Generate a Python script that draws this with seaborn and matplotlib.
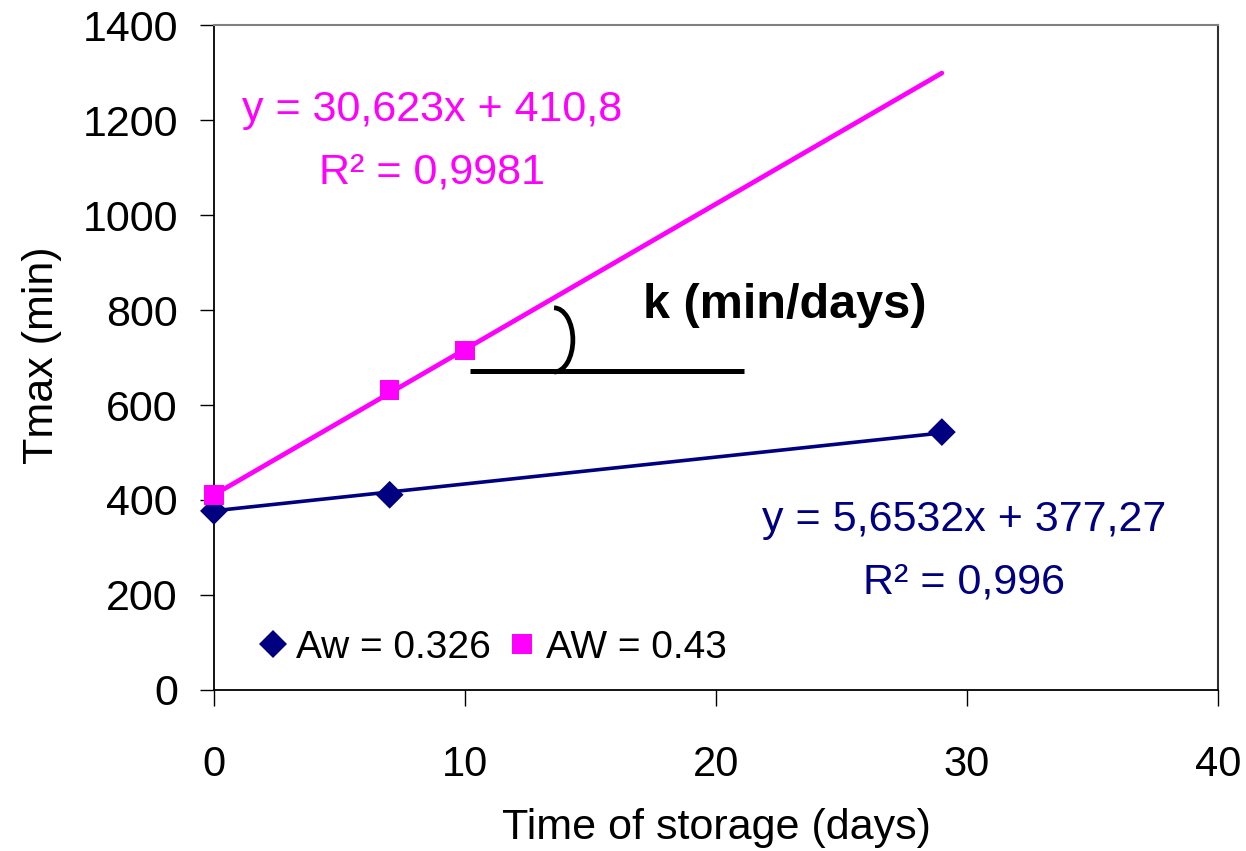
import numpy as np
import pandas as pd
import matplotlib
matplotlib.use("Agg")
import matplotlib.pyplot as plt
from matplotlib.patches import Arc
import seaborn as sns

days_low = [0, 7, 29]
tmax_low = [377, 411, 543]
days_high = [0, 7, 10]
tmax_high = [411, 631, 715]

series_names = ["Aw = 0.326", "AW = 0.43"]
series_colors = ["#000080", "#FF00FF"]

# Excel trend lines as printed on the chart
slope_low, icpt_low = 5.6532, 377.27
slope_high, icpt_high = 30.623, 410.8
trend_days = [0, 29]

eq_low = ["y = 5,6532x + 377,27", "R² = 0,996"]
eq_high = ["y = 30,623x + 410,8", "R² = 0,9981"]

x_ticks = [0, 10, 20, 30, 40]
y_ticks = [0, 200, 400, 600, 800, 1000, 1200, 1400]

sns.set_theme(style="white")
plt.rcParams['font.family'] = ['Liberation Sans', 'DejaVu Sans']
plt.rcParams['text.color'] = 'black'
plt.rcParams['axes.labelcolor'] = 'black'
plt.rcParams['xtick.color'] = 'black'
plt.rcParams['ytick.color'] = 'black'

df = pd.DataFrame({
    "days": days_low + days_high,
    "tmax": tmax_low + tmax_high,
    "series": [series_names[0]] * len(days_low) + [series_names[1]] * len(days_high),
})

trend = pd.DataFrame({
    "days": trend_days + trend_days,
    "tmax": [slope_low * d + icpt_low for d in trend_days] + [slope_high * d + icpt_high for d in trend_days],
    "series": [series_names[0]] * 2 + [series_names[1]] * 2,
})

fig = plt.figure(figsize=(12.46, 8.51), dpi=100)
ax = fig.add_axes([0.1717, 0.1892, 0.8058, 0.7814])

palette = dict(zip(series_names, series_colors))
sns.lineplot(data=trend, x="days", y="tmax", hue="series", palette=palette,
             linewidth=3, legend=False, ax=ax)
# navy trend line thinner than the magenta one
ax.lines[0].set_linewidth(2.6)
ax.lines[1].set_linewidth(3.4)

sns.scatterplot(data=df, x="days", y="tmax", hue="series", style="series",
                palette=palette, markers={series_names[0]: "D", series_names[1]: "s"},
                s=200, edgecolor="none", ax=ax, zorder=5, clip_on=False)
for coll, sz in zip(ax.collections, [135, 260]):
    coll.set_sizes([sz])

ax.set_xlim(0, 40)
ax.set_ylim(0, 1400)
ax.set_xticks(x_ticks)
ax.set_yticks(y_ticks)
ax.set_xticklabels([str(t) for t in x_ticks], fontsize=30)
ax.set_yticklabels([str(t) for t in y_ticks], fontsize=31)
ax.tick_params(axis="x", direction="out", length=11.5, width=1, color="black", pad=28, bottom=True)
ax.tick_params(axis="y", direction="out", length=10, width=1, color="black", pad=16, left=True)

ax.set_xlabel("Time of storage (days)", fontsize=31, va="center")
ax.set_ylabel("Tmax (min)", fontsize=31, va="center")
ax.xaxis.set_label_coords(0.5, -0.2075)
ax.yaxis.set_label_coords(-0.171, 0.504)

for side in ["left", "bottom"]:
    ax.spines[side].set_color("black")
    ax.spines[side].set_linewidth(1.3)
ax.spines["top"].set_color("#808080")
ax.spines["top"].set_linewidth(1.5)
ax.spines["right"].set_color("#303030")
ax.spines["right"].set_linewidth(1.5)

# trend line equations
for i, line in enumerate(eq_high):
    ax.text(8.69, 1221 - i * 131, line, color=series_colors[1], fontsize=31,
            ha="center", va="center")
for i, line in enumerate(eq_low):
    ax.text(29.88, 358 - i * 131, line, color=series_colors[0], fontsize=31,
            ha="center", va="center")

# slope annotation
ax.plot([10.2, 21.1], [672, 672], color="black", linewidth=3.6, solid_capstyle="butt")
ax.add_patch(Arc((13.55, 737), 1.5, 135, theta1=-90, theta2=90, color="black", linewidth=3.4))
ax.text(17.1, 810, "k (min/days)", fontsize=35, fontweight="bold", ha="left", va="center")

handles, labels = ax.get_legend_handles_labels()
ax.legend(handles, labels, loc="center left", bbox_to_anchor=(0.024, 0.063), ncol=2,
          frameon=False, fontsize=28, handletextpad=0.1, columnspacing=0.3,
          handlelength=1.0, borderaxespad=0)

fig.savefig("out.png", dpi=100)
